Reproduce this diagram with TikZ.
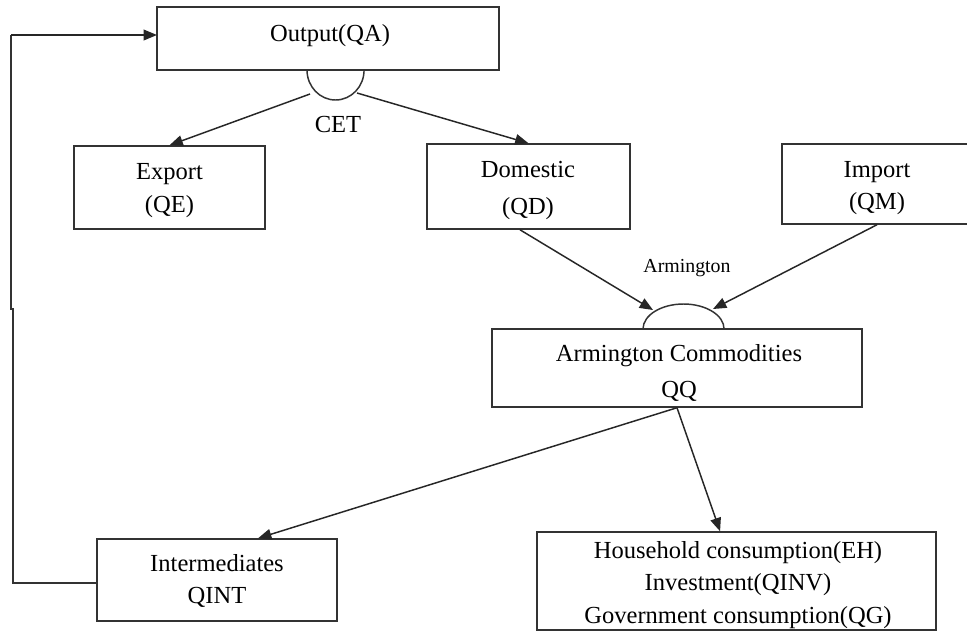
\documentclass[tikz,border=0pt]{standalone}
\usepackage{fontspec}
\setmainfont{Liberation Serif}
\usetikzlibrary{arrows.meta,calc}
\begin{document}
\begin{tikzpicture}[x=0.75pt,y=-0.75pt,
  line width=1.1pt,
  box/.style={draw=black!80, rectangle, inner sep=0pt},
  txt/.style={inner sep=0pt, align=center, font=\fontsize{18.4}{25}\selectfont},
  arr/.style={draw=black!85, -{Triangle[length=10pt,width=8pt]}},
  ln/.style={draw=black!80}]
\useasboundingbox (0,0) rectangle (967,632);
\fill[white] (0,0) rectangle (967,632);
% boxes
\node[box, minimum width=256.5pt, minimum height=47.25pt] (out) at (328,38.5) {};
\node[txt] (outT) at (330,36) {Output(QA)};
\node[box, minimum width=143.25pt, minimum height=62.25pt] (exp) at (169.5,187.5) {};
\node[txt, font=\fontsize{18.4}{24.75}\selectfont] (expT) at (169.5,190.5) {Export\\(QE)};
\node[box, minimum width=152.25pt, minimum height=63.75pt] (dom) at (528.5,186.5) {};
\node[txt, font=\fontsize{18.4}{27.75}\selectfont] (domT) at (528,190) {Domestic\\(QD)};
\node[box, minimum width=142.5pt, minimum height=60pt] (imp) at (877,184) {};
\node[txt, font=\fontsize{18.4}{24}\selectfont] (impT) at (877,188) {Import\\(QM)};
\node[box, minimum width=277.5pt, minimum height=58.5pt] (qq) at (677,368) {};
\node[txt, font=\fontsize{18.4}{27}\selectfont] (qqT) at (679,372.5) {Armington Commodities\\QQ};
\node[box, minimum width=180pt, minimum height=61.5pt] (int) at (217,580) {};
\node[txt, font=\fontsize{18.4}{23.5}\selectfont] (intT) at (217,581) {Intermediates\\QINT};
\node[box, minimum width=299.25pt, minimum height=73.5pt] (hh) at (736.5,581) {};
\node[txt, font=\fontsize{18.4}{24.5}\selectfont] (hhT) at (738,585)
  {Household consumption(EH)\\Investment(QINV)\\Government consumption(QG)};
% CET semicircle
\draw[ln] (307,70) arc[start angle=180, end angle=360, x radius=21.4pt, y radius=22.5pt];
\node[txt] (cet) at (338,124) {CET};
% Armington semicircle
\draw[ln] (643,329) arc[start angle=180, end angle=0, x radius=30.4pt, y radius=18.75pt];
\node[inner sep=0pt, font=\fontsize{14.9}{18}\selectfont] (armlab) at (687,268) {Armington};
% arrow points
\coordinate (cetL) at (310,94);
\coordinate (cetR) at (357,93);
\coordinate (armL) at (653,310);
\coordinate (armR) at (713,309);
\draw[arr] (cetL) -- (exp.north);
\draw[arr] (cetR) -- (dom.north);
\draw[arr] ($(dom.south west)!0.458!(dom.south east)$) -- (armL);
\draw[arr] (imp.south) -- (armR);
\draw[arr] (qq.south) -- ($(int.north west)!0.67!(int.north east)$);
\draw[arr] (qq.south) -- ($(hh.north west)!0.459!(hh.north east)$);
% feedback loop
\coordinate (fbA) at (97,583);
\coordinate (fbB) at (13,583);
\coordinate (fbC) at (13,309);
\coordinate (fbD) at (11,309);
\coordinate (fbE) at (11,35);
\coordinate (fbF) at (157,35);
\draw[ln] (fbA) -- (fbB) -- (fbC) -- (fbD) -- (fbE);
\draw[arr] (fbE) -- (fbF);
\end{tikzpicture}
\end{document}
